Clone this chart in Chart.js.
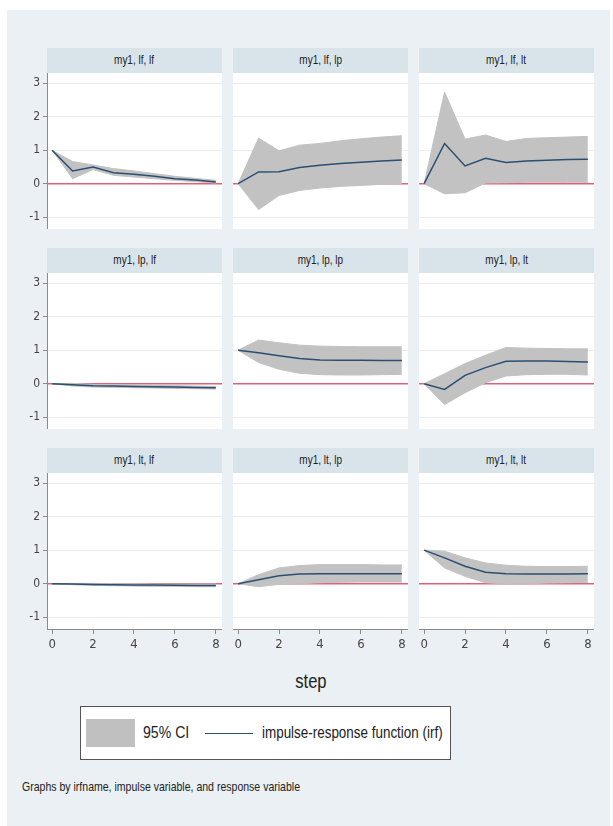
<!DOCTYPE html>
<html>
<head>
<meta charset="utf-8">
<script src="https://cdn.jsdelivr.net/npm/chart.js@4"></script>
<style>
  body { margin: 0; background: #fff; width: 613px; height: 826px; position: relative; overflow: hidden;
         font-family: 'Liberation Sans', Arial, sans-serif; color: #222; }
  .bg { position: absolute; left: 7px; top: 10px; width: 603px; height: 816px; background: #eaf0f3; }
  .strip { position: absolute; height: 25px; line-height: 25px; background: #d8e3ea; text-align: center; font-size: 12px; }
  .cond { display: inline-block; white-space: nowrap; transform: scaleX(0.83); }
  .left { transform-origin: left center; }
  canvas { position: absolute; }
  .legend { position: absolute; left: 80px; top: 706px; width: 369px; height: 52px; background: #fff; border: 1px solid #555; }
  .legend span { position: absolute; font-size: 17px; line-height: 18px; top: 17px; }
</style>
</head>
<body>
<div class="bg"></div>
<div id="panels"></div>
<div style="position:absolute; left:261px; width:100px; text-align:center; top:670px; font-size:20px;"><span class="cond">step</span></div>
<div class="legend">
  <div style="position:absolute; left:5px; top:12px; width:49px; height:28px; background:#c0c0c0;"></div>
  <span class="cond left" style="left:62px;">95% CI</span>
  <div style="position:absolute; left:124px; top:26px; width:48px; height:0; border-top:1.5px solid #2a4f70;"></div>
  <span class="cond left" style="left:181px; transform: scaleX(0.79);">impulse-response function (irf)</span>
</div>
<div class="cond left" style="position:absolute; left:22px; top:779px; font-size:13px; transform: scaleX(0.81);">Graphs by irfname, impulse variable, and response variable</div>

<script>
const steps = [0, 1, 2, 3, 4, 5, 6, 7, 8];
const xTicks = [0, 2, 4, 6, 8];
const yTicks = [-1, 0, 1, 2, 3];

const titles = [
  'my1, lf, lf', 'my1, lf, lp', 'my1, lf, lt',
  'my1, lp, lf', 'my1, lp, lp', 'my1, lp, lt',
  'my1, lt, lf', 'my1, lt, lp', 'my1, lt, lt'
];

// irf and 95% CI bounds, one set per panel
const irf_lf_lf = [1.0, 0.38, 0.5, 0.33, 0.28, 0.22, 0.15, 0.11, 0.05];
const lo_lf_lf  = [1.0, 0.15, 0.42, 0.25, 0.2, 0.15, 0.1, 0.06, 0.02];
const hi_lf_lf  = [1.0, 0.66, 0.56, 0.45, 0.38, 0.3, 0.22, 0.16, 0.1];

const irf_lf_lp = [0, 0.35, 0.36, 0.48, 0.55, 0.6, 0.64, 0.68, 0.71];
const lo_lf_lp  = [0, -0.77, -0.35, -0.2, -0.13, -0.08, -0.05, -0.02, 0.0];
const hi_lf_lp  = [0, 1.36, 0.98, 1.15, 1.2, 1.28, 1.34, 1.39, 1.43];

const irf_lf_lt = [0, 1.2, 0.53, 0.76, 0.63, 0.68, 0.7, 0.72, 0.73];
const lo_lf_lt  = [0, -0.3, -0.27, 0.02, 0.03, 0.04, 0.04, 0.04, 0.04];
const hi_lf_lt  = [0, 2.73, 1.33, 1.45, 1.26, 1.35, 1.37, 1.39, 1.41];

const irf_lp_lf = [0, -0.03, -0.06, -0.07, -0.08, -0.09, -0.1, -0.11, -0.12];
const lo_lp_lf  = [0, -0.07, -0.1, -0.11, -0.12, -0.13, -0.14, -0.15, -0.16];
const hi_lp_lf  = [0, 0.01, -0.02, -0.03, -0.04, -0.05, -0.06, -0.07, -0.08];

const irf_lp_lp = [1.0, 0.92, 0.83, 0.75, 0.71, 0.7, 0.7, 0.69, 0.69];
const lo_lp_lp  = [1.0, 0.63, 0.43, 0.31, 0.27, 0.26, 0.26, 0.27, 0.28];
const hi_lp_lp  = [1.0, 1.3, 1.22, 1.15, 1.12, 1.11, 1.1, 1.1, 1.1];

const irf_lp_lt = [0, -0.17, 0.25, 0.48, 0.67, 0.68, 0.68, 0.66, 0.65];
const lo_lp_lt  = [0, -0.62, -0.27, 0.03, 0.23, 0.27, 0.28, 0.28, 0.26];
const hi_lp_lt  = [0, 0.3, 0.6, 0.85, 1.08, 1.06, 1.05, 1.04, 1.04];

const irf_lt_lf = [0, -0.01, -0.02, -0.03, -0.035, -0.04, -0.045, -0.05, -0.05];
const lo_lt_lf  = [0, -0.03, -0.05, -0.06, -0.07, -0.08, -0.08, -0.09, -0.09];
const hi_lt_lf  = [0, 0.01, 0.01, 0.0, 0.0, -0.01, -0.01, -0.01, -0.01];

const irf_lt_lp = [0, 0.12, 0.24, 0.29, 0.3, 0.3, 0.3, 0.3, 0.3];
const lo_lt_lp  = [0, -0.09, -0.02, 0.0, 0.03, 0.04, 0.05, 0.05, 0.05];
const hi_lt_lp  = [0, 0.27, 0.47, 0.54, 0.57, 0.57, 0.57, 0.56, 0.56];

const irf_lt_lt = [1.0, 0.77, 0.52, 0.34, 0.3, 0.29, 0.29, 0.29, 0.3];
const lo_lt_lt  = [1.0, 0.47, 0.22, 0.03, -0.01, 0.0, 0.02, 0.03, 0.04];
const hi_lt_lt  = [1.0, 0.97, 0.77, 0.62, 0.55, 0.52, 0.51, 0.51, 0.52];

const panelData = [
  [irf_lf_lf, lo_lf_lf, hi_lf_lf], [irf_lf_lp, lo_lf_lp, hi_lf_lp], [irf_lf_lt, lo_lf_lt, hi_lf_lt],
  [irf_lp_lf, lo_lp_lf, hi_lp_lf], [irf_lp_lp, lo_lp_lp, hi_lp_lp], [irf_lp_lt, lo_lp_lt, hi_lp_lt],
  [irf_lt_lf, lo_lt_lf, hi_lt_lf], [irf_lt_lp, lo_lt_lp, hi_lt_lp], [irf_lt_lt, lo_lt_lt, hi_lt_lt]
];

const fontFamily = "'DejaVu Sans Condensed', 'Liberation Sans', sans-serif";
const plotLeft = [47, 233, 419];
const plotTop = [73, 273, 473];
const plotW = 175, plotH = 156;
const yAxisW = 30, xAxisH = 30;

const toPts = arr => steps.map((s, i) => ({ x: s, y: arr[i] }));

// white plot region + red zero line under the CI
const panelBg = {
  id: 'panelBg',
  beforeDraw(chart) {
    const { ctx, chartArea: a } = chart;
    ctx.save();
    ctx.fillStyle = '#fff';
    ctx.fillRect(a.left, a.top, a.right - a.left, a.bottom - a.top);
    ctx.restore();
  },
  beforeDatasetsDraw(chart) {
    const { ctx, chartArea: a, scales } = chart;
    const y0 = scales.y.getPixelForValue(0);
    ctx.save();
    ctx.strokeStyle = '#e0607c';
    ctx.lineWidth = 1.5;
    ctx.beginPath();
    ctx.moveTo(a.left, y0);
    ctx.lineTo(a.right, y0);
    ctx.stroke();
    ctx.restore();
  }
};

const holder = document.getElementById('panels');

panelData.forEach((d, k) => {
  const row = Math.floor(k / 3), col = k % 3;
  const showY = col === 0, showX = row === 2;

  const strip = document.createElement('div');
  strip.className = 'strip';
  strip.style.left = plotLeft[col] + 'px';
  strip.style.top = (plotTop[row] - 25) + 'px';
  strip.style.width = plotW + 'px';
  strip.innerHTML = '<span class="cond">' + titles[k] + '</span>';
  holder.appendChild(strip);

  const box = document.createElement('div');
  const w = plotW + (showY ? yAxisW : 0);
  const h = plotH + (showX ? xAxisH : 0);
  box.style.position = 'absolute';
  box.style.width = w + 'px'; box.style.height = h + 'px';
  box.style.left = (plotLeft[col] - (showY ? yAxisW : 0)) + 'px';
  box.style.top = plotTop[row] + 'px';
  const cv = document.createElement('canvas');
  box.appendChild(cv);
  holder.appendChild(box);

  new Chart(cv.getContext('2d'), {
    type: 'line',
    data: {
      datasets: [
        { label: 'hi', data: toPts(d[2]), borderColor: '#c2c2c2', backgroundColor: '#c2c2c2',
          borderWidth: 1, pointRadius: 0, fill: '+1', tension: 0, order: 3 },
        { label: 'lo', data: toPts(d[1]), borderColor: '#c2c2c2', borderWidth: 1, pointRadius: 0, fill: false, tension: 0, order: 2 },
        { label: 'irf', data: toPts(d[0]), borderColor: '#2a4f70', borderWidth: 1.5, pointRadius: 0, fill: false, tension: 0, order: 1 }
      ]
    },
    options: {
      responsive: true,
      maintainAspectRatio: false,
      animation: false,
      events: [],
      layout: { padding: 0, autoPadding: false },
      plugins: { legend: { display: false }, tooltip: { enabled: false } },
      scales: {
        x: {
          type: 'linear', min: -0.25, max: 8.3,
          display: showX,
          afterBuildTicks: s => { s.ticks = xTicks.map(v => ({ value: v })); },
          afterFit: s => { s.height = showX ? xAxisH : 0; s.paddingLeft = 0; s.paddingRight = 0; },
          grid: { drawOnChartArea: false, drawTicks: true, tickLength: 5, tickColor: '#8a8a8a' },
          border: { display: true, color: '#8a8a8a', width: 1 },
          ticks: { color: '#444', padding: 3, maxRotation: 0, font: { family: fontFamily, size: 13 } }
        },
        y: {
          type: 'linear', min: -1.35, max: 3.3,
          afterBuildTicks: s => { s.ticks = yTicks.map(v => ({ value: v })); },
          afterFit: s => { s.width = showY ? yAxisW : 0; s.paddingTop = 0; s.paddingBottom = 0; },
          grid: { color: '#ececec', lineWidth: 1, drawTicks: showY, tickLength: 4, tickColor: '#8a8a8a' },
          border: { display: showY, color: '#8a8a8a', width: 1 },
          ticks: { display: showY, color: '#444', padding: 3, font: { family: fontFamily, size: 12 } }
        }
      }
    },
    plugins: [panelBg]
  });
});
</script>
</body>
</html>
